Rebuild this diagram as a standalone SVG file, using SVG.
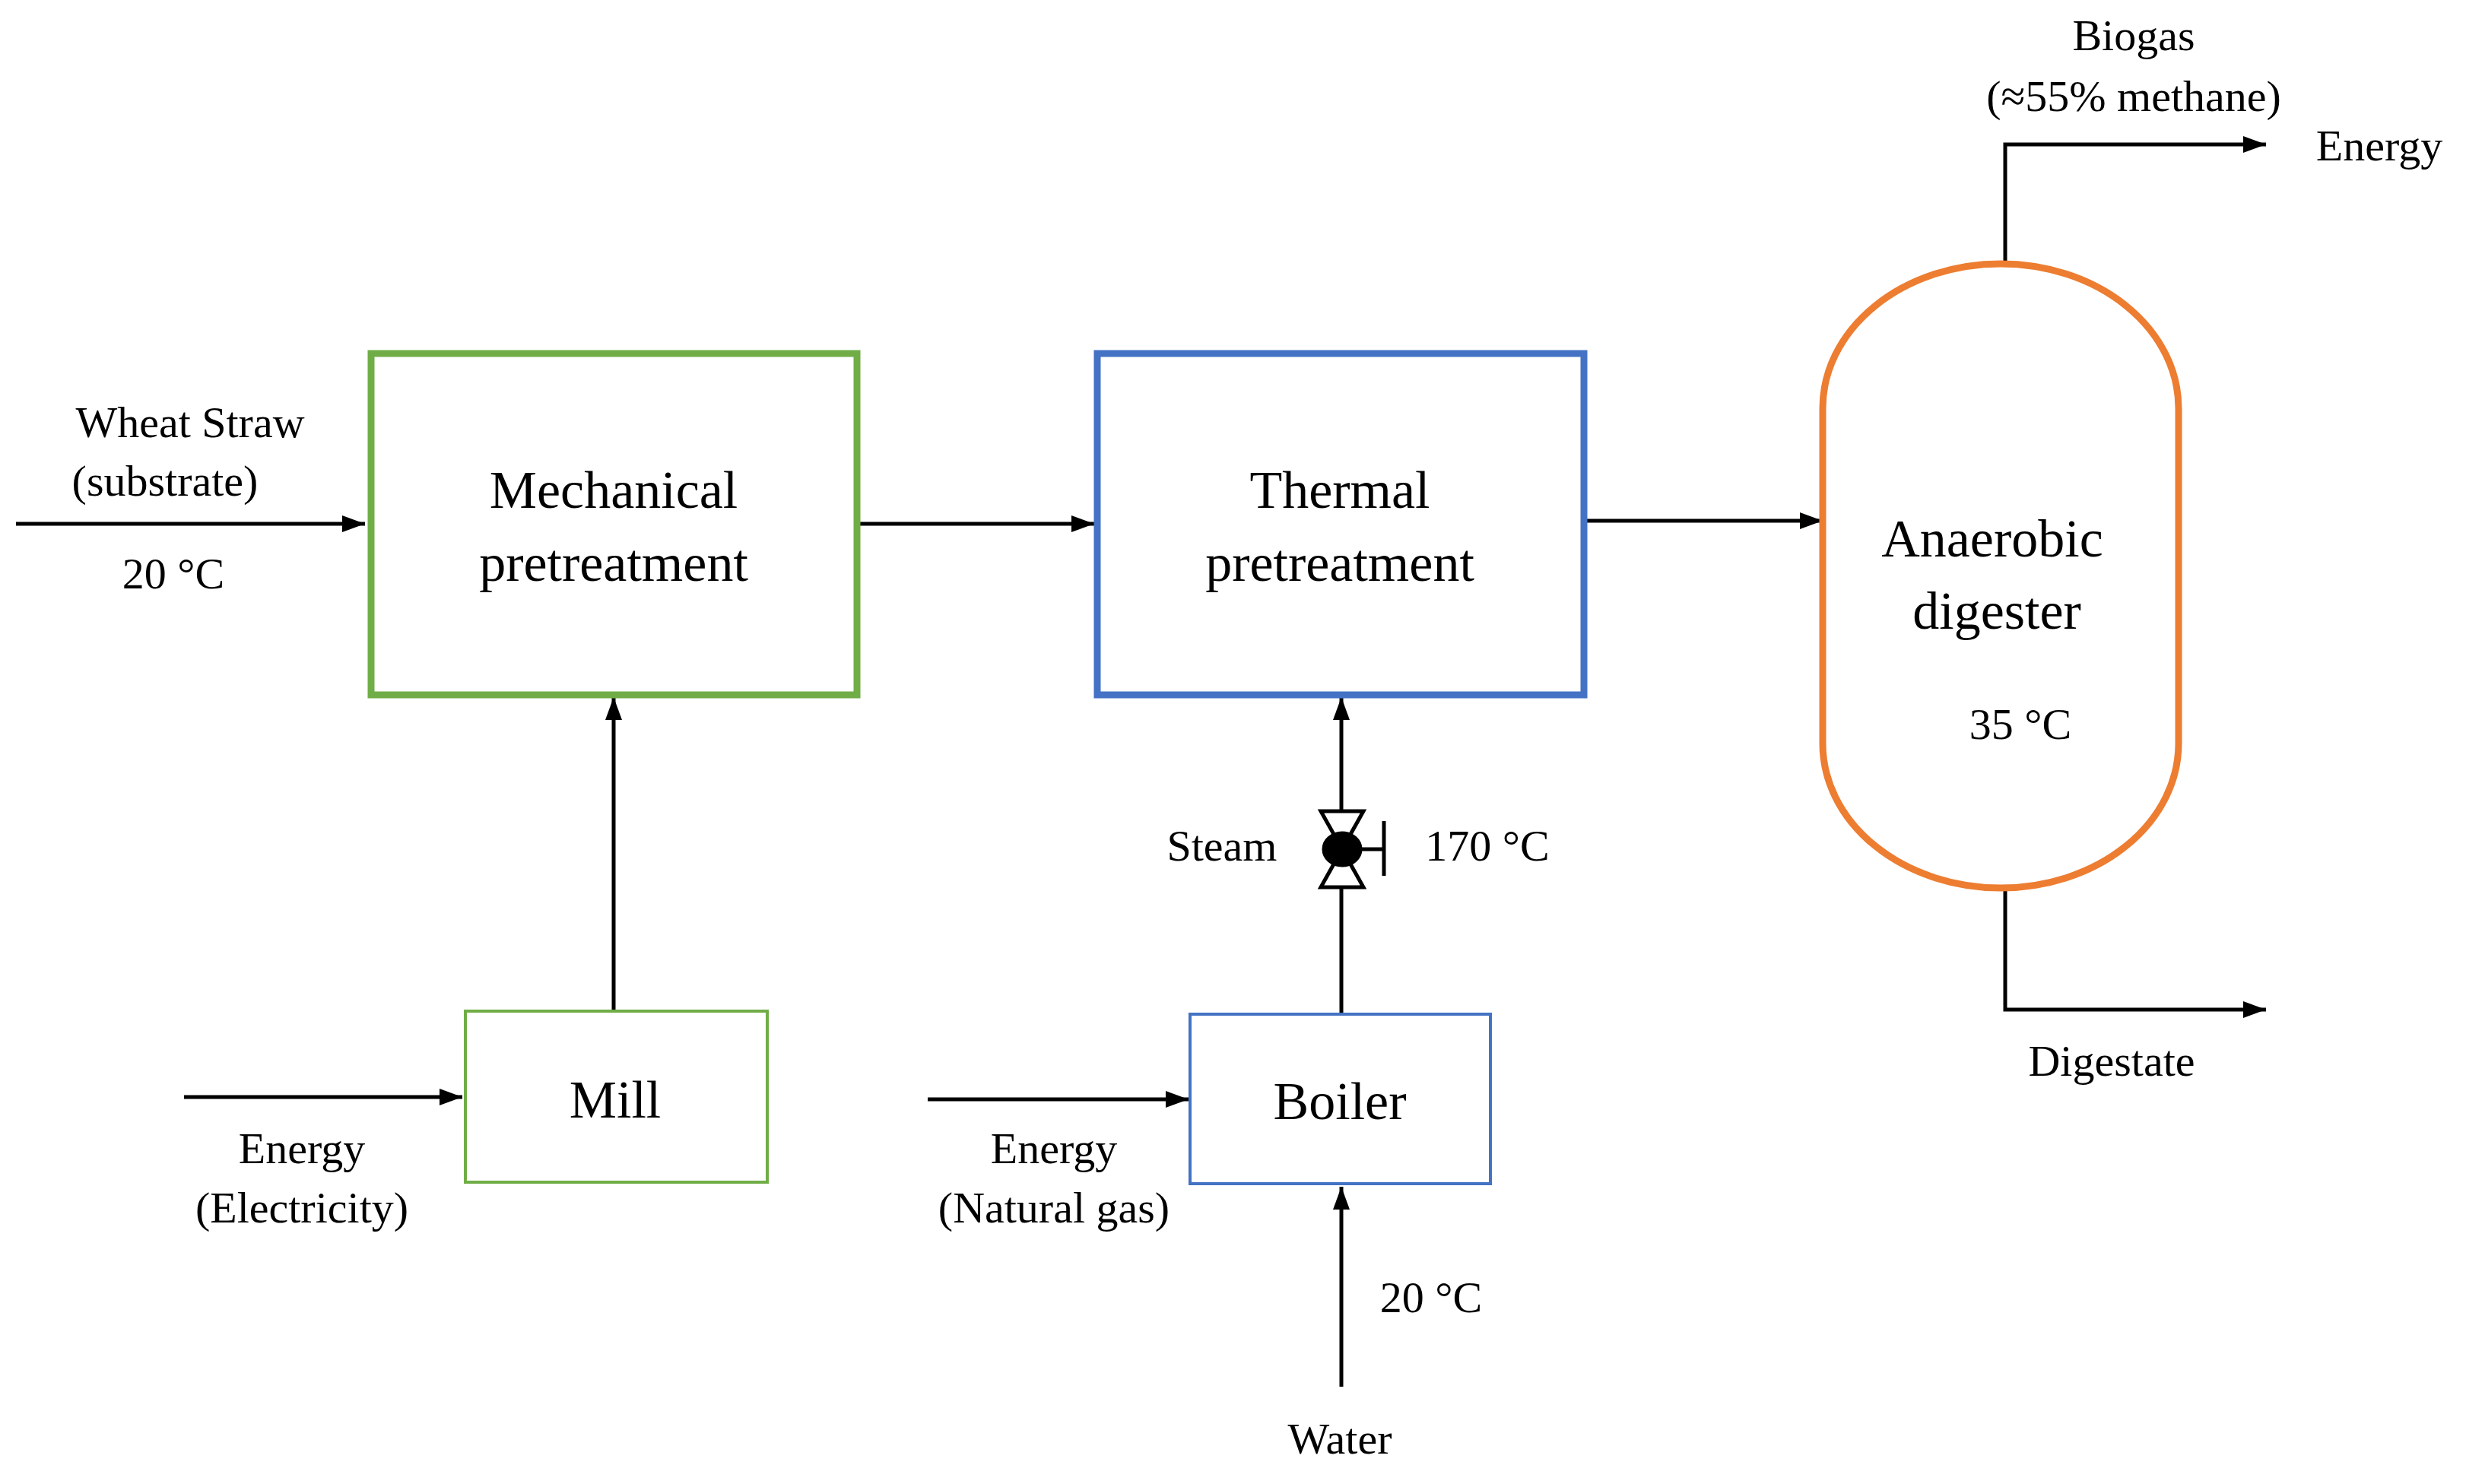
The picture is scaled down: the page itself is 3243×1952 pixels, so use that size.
<svg xmlns="http://www.w3.org/2000/svg" width="3243" height="1952" viewBox="0 0 3243 1952">
<style>
text{font-family:"Liberation Serif","Times New Roman",serif;fill:#000;text-anchor:middle}
.lbl{font-size:58px}
.big{font-size:70px}
.c{fill:none;stroke:#000;stroke-width:5}
</style>
<defs>
<marker id="ah" markerUnits="userSpaceOnUse" markerWidth="30" markerHeight="22" refX="30" refY="11" orient="auto"><path d="M0,0 L30,11 L0,22 Z" fill="#000"/></marker>
</defs>
<rect width="3243" height="1952" fill="#fff"/>
<g id="connectors">
<line class="c" x1="21" y1="689" x2="480" y2="689" marker-end="url(#ah)"/>
<line class="c" x1="1127" y1="689" x2="1439" y2="689" marker-end="url(#ah)"/>
<line class="c" x1="2083" y1="685" x2="2397" y2="685" marker-end="url(#ah)"/>
<line class="c" x1="807" y1="1330" x2="807" y2="917" marker-end="url(#ah)"/>
<line class="c" x1="242" y1="1443" x2="608" y2="1443" marker-end="url(#ah)"/>
<line class="c" x1="1220" y1="1446" x2="1563" y2="1446" marker-end="url(#ah)"/>
<line class="c" x1="1764" y1="1334" x2="1764" y2="917" marker-end="url(#ah)"/>
<line class="c" x1="1764" y1="1824" x2="1764" y2="1561" marker-end="url(#ah)"/>
<polyline class="c" points="2637,345 2637,190 2980,190" marker-end="url(#ah)"/>
<polyline class="c" points="2637,1168 2637,1328 2980,1328" marker-end="url(#ah)"/>
<g id="valve" stroke="#000" stroke-width="5" fill="#fff">
<polygon points="1737,1067 1793,1067 1765,1117"/>
<polygon points="1765,1117 1737,1167 1793,1167"/>
<line x1="1765" y1="1117" x2="1820" y2="1117"/>
<line x1="1820" y1="1080" x2="1820" y2="1152"/>
<ellipse cx="1765" cy="1117" rx="24" ry="21" fill="#000"/>
</g>
</g>
<g id="mech"><rect x="488" y="465" width="639" height="449" fill="none" stroke="#70AD47" stroke-width="9"/>
<text class="big" x="807" y="668">Mechanical</text><text class="big" x="807" y="764">pretreatment</text></g>
<g id="thermal"><rect x="1443" y="465" width="640" height="449" fill="none" stroke="#4472C4" stroke-width="9"/>
<text class="big" x="1762" y="668">Thermal</text><text class="big" x="1762" y="764">pretreatment</text></g>
<g id="digester"><rect x="2397" y="347" width="468" height="821" rx="234" ry="190" fill="none" stroke="#ED7D31" stroke-width="9"/>
<text class="big" x="2620" y="732">Anaerobic</text><text class="big" x="2626" y="827">digester</text>
<text class="lbl" x="2657" y="972">35 °C</text></g>
<g id="mill"><rect x="612" y="1330" width="397" height="225" fill="none" stroke="#70AD47" stroke-width="4"/>
<text class="big" x="809" y="1470">Mill</text></g>
<g id="boiler"><rect x="1565" y="1334" width="395" height="223" fill="none" stroke="#4472C4" stroke-width="4"/>
<text class="big" x="1762" y="1472">Boiler</text></g>
<g id="labels">
<text class="lbl" x="250" y="575">Wheat Straw</text>
<text class="lbl" x="217" y="652">(substrate)</text>
<text class="lbl" x="228" y="774">20 °C</text>
<text class="lbl" x="2806" y="66">Biogas</text>
<text class="lbl" x="2806" y="146">(≈55% methane)</text>
<text class="lbl" x="3129" y="211">Energy</text>
<text class="lbl" x="2777" y="1415">Digestate</text>
<text class="lbl" x="397" y="1530">Energy</text>
<text class="lbl" x="397" y="1608">(Electricity)</text>
<text class="lbl" x="1386" y="1530">Energy</text>
<text class="lbl" x="1386" y="1608">(Natural gas)</text>
<text class="lbl" x="1607" y="1132">Steam</text>
<text class="lbl" x="1956" y="1132">170 °C</text>
<text class="lbl" x="1882" y="1726">20 °C</text>
<text class="lbl" x="1762" y="1912">Water</text>
</g>
</svg>
